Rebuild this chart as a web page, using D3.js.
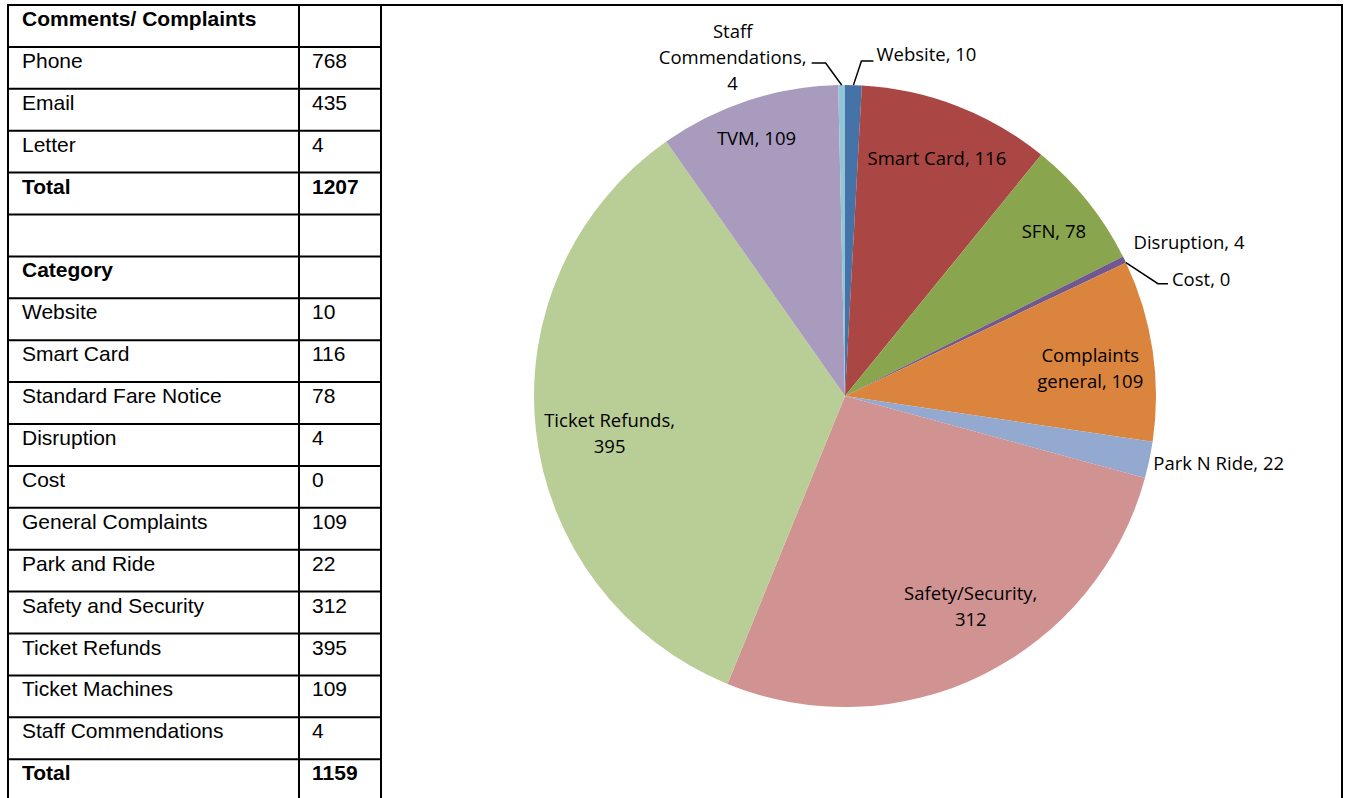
<!DOCTYPE html>
<html>
<head>
<meta charset="utf-8">
<script src="https://cdn.jsdelivr.net/npm/d3@7"></script>
<style>
  body { margin: 0; background: #fff; }
  #chart { width: 1346px; height: 798px; }
  .cell text { font-family: "Liberation Sans", Arial, sans-serif; font-size: 21px; fill: #000; }
  .lbl { font-family: "Open Sans", sans-serif; font-size: 18.5px; fill: #000; }
</style>
</head>
<body>
<div id="chart"></div>
<script>

// table data
const channelNames = ["Phone", "Email", "Letter"];
const channelValues = [768, 435, 4];
const channelTotal = 1207;

const categoryNames = ["Website", "Smart Card", "Standard Fare Notice", "Disruption", "Cost",
  "General Complaints", "Park and Ride", "Safety and Security", "Ticket Refunds",
  "Ticket Machines", "Staff Commendations"];
const categoryValues = [10, 116, 78, 4, 0, 109, 22, 312, 395, 109, 4];
const categoryTotal = 1159;

// pie labels (same order as categoryValues)
const sliceNames = ["Website", "Smart Card", "SFN", "Disruption", "Cost", "Complaints general",
  "Park N Ride", "Safety/Security", "Ticket Refunds", "TVM", "Staff Commendations"];
const sliceColors = ["#4572A7", "#AA4643", "#89A54E", "#71588F", "#4198AF", "#DB843D",
  "#93A9CF", "#D19392", "#B9CD96", "#A99BBD", "#92C5D6"];

const width = 1346, height = 798;

const svg = d3.select("#chart")
  .append("svg")
  .attr("width", width)
  .attr("height", height);

//TABLE
const rows = [];
rows.push({ a: "Comments/ Complaints", b: "", bold: true });
channelNames.forEach((n, i) => rows.push({ a: n, b: channelValues[i] }));
rows.push({ a: "Total", b: channelTotal, bold: true });
rows.push({ a: "", b: "" });
rows.push({ a: "Category", b: "", bold: true });
categoryNames.forEach((n, i) => rows.push({ a: n, b: categoryValues[i] }));
rows.push({ a: "Total", b: categoryTotal, bold: true });

const tableTop = 5, rowH = 41.9;
const colX = [8, 299, 381];

const y = d3.scaleLinear().domain([0, rows.length]).range([tableTop, tableTop + rows.length * rowH]);

const cell = svg.selectAll(".cell")
  .data(rows)
  .enter()
  .append("g")
  .attr("class", "cell")
  .attr("transform", (d, i) => `translate(0,${y(i)})`);

cell.append("text")
  .attr("x", colX[0] + 14)
  .attr("y", 21)
  .attr("font-weight", d => d.bold ? "bold" : null)
  .text(d => d.a);

cell.append("text")
  .attr("x", colX[1] + 13)
  .attr("y", 21)
  .attr("font-weight", d => d.bold ? "bold" : null)
  .text(d => d.b);

// horizontal rules
svg.selectAll(".hrule")
  .data(d3.range(rows.length + 1))
  .enter()
  .append("line")
  .attr("x1", colX[0] - 1)
  .attr("x2", colX[2] + 1)
  .attr("y1", d => y(d))
  .attr("y2", d => y(d))
  .attr("stroke", "#000")
  .attr("stroke-width", 2);

svg.selectAll(".vrule")
  .data(colX)
  .enter()
  .append("line")
  .attr("x1", d => d)
  .attr("x2", d => d)
  .attr("y1", tableTop - 1)
  .attr("y2", height + 5)
  .attr("stroke", "#000")
  .attr("stroke-width", 2);

// chart panel border
svg.append("path")
  .attr("d", `M${colX[2]},${tableTop} H1342 V${height + 5}`)
  .attr("fill", "none")
  .attr("stroke", "#000")
  .attr("stroke-width", 2);

//PIE
const cx = 845, cy = 396, r = 311;

const pie = d3.pie().sort(null).value(d => d);
const arcs = pie(categoryValues);
const arc = d3.arc().innerRadius(0).outerRadius(r);

const g = svg.append("g").attr("transform", `translate(${cx},${cy})`);

g.selectAll("path")
  .data(arcs)
  .enter()
  .append("path")
  .attr("d", arc)
  .attr("fill", (d, i) => sliceColors[i]);

function pt(d, rad) {
  const a = (d.startAngle + d.endAngle) / 2;
  return [Math.sin(a) * rad, -Math.cos(a) * rad];
}

// inside labels
const inside = [1, 2, 5, 7, 8, 9];
const insideLines = {
  1: ["Smart Card, 116"],
  2: ["SFN, 78"],
  5: ["Complaints", "general, 109"],
  7: ["Safety/Security,", "312"],
  8: ["Ticket Refunds,", "395"],
  9: ["TVM, 109"]
};
const nudge = { 1: [0, 0], 2: [10, -5], 5: [-7, 10], 7: [13, -19], 8: [18, 8], 9: [-9, -16] };
const lineH = 26;

inside.forEach(i => {
  const p = pt(arcs[i], r * 0.82);
  const lines = insideLines[i];
  const t = g.append("text")
    .attr("class", "lbl")
    .attr("text-anchor", "middle")
    .attr("x", p[0] + nudge[i][0])
    .attr("y", p[1] + nudge[i][1] - (lines.length - 1) * lineH / 2 + 7);
  lines.forEach((l, k) => {
    t.append("tspan")
      .attr("x", p[0] + nudge[i][0])
      .attr("dy", k === 0 ? 0 : lineH)
      .text(l);
  });
});

// outside labels
const leader = d3.line();

// Website
{
  const e = pt(arcs[0], r);
  g.append("path").attr("d", leader([e, [e[0] + 8, e[1] - 24], [e[0] + 20, e[1] - 24]]))
    .attr("fill", "none").attr("stroke", "#000").attr("stroke-width", 1.5);
  g.append("text").attr("class", "lbl").attr("x", e[0] + 23).attr("y", e[1] - 24)
    .text(sliceNames[0] + ", " + categoryValues[0]);
}
// Staff Commendations
{
  const e = pt(arcs[10], r);
  g.append("path").attr("d", leader([e, [e[0] - 16, e[1] - 22], [e[0] - 30, e[1] - 22]]))
    .attr("fill", "none").attr("stroke", "#000").attr("stroke-width", 1.5);
  const t = g.append("text").attr("class", "lbl").attr("text-anchor", "middle")
    .attr("y", e[1] - 47);
  ["Staff", "Commendations,", String(categoryValues[10])].forEach((l, k) => {
    t.append("tspan").attr("x", e[0] - 109).attr("dy", k === 0 ? 0 : lineH).text(l);
  });
}
// Disruption
{
  const e = pt(arcs[3], r);
  g.append("text").attr("class", "lbl").attr("x", e[0] + 9).attr("y", e[1] - 11)
    .text(sliceNames[3] + ", " + categoryValues[3]);
}
// Cost
{
  const e = pt(arcs[4], r);
  g.append("path").attr("d", leader([e, [e[0] + 32, e[1] + 21], [e[0] + 42, e[1] + 21]]))
    .attr("fill", "none").attr("stroke", "#000").attr("stroke-width", 1.5);
  g.append("text").attr("class", "lbl").attr("x", e[0] + 46).attr("y", e[1] + 23)
    .text(sliceNames[4] + ", " + categoryValues[4]);
}
// Park N Ride
{
  const e = pt(arcs[6], r);
  g.append("text").attr("class", "lbl").attr("x", e[0] + 4).attr("y", e[1] + 10)
    .text(sliceNames[6] + ", " + categoryValues[6]);
}

</script>
</body>
</html>
